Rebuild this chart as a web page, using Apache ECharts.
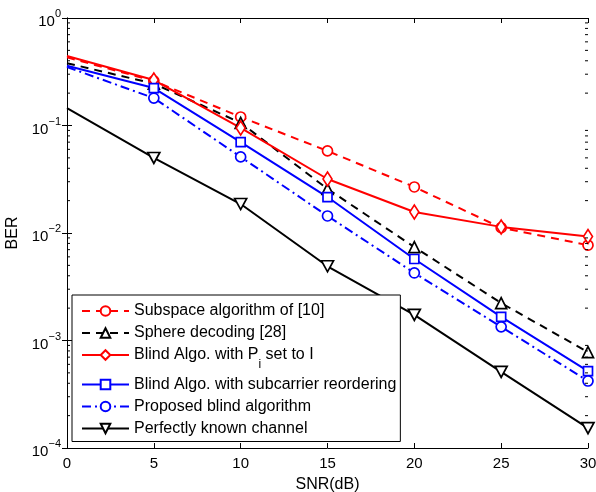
<!DOCTYPE html>
<html>
<head>
<meta charset="utf-8">
<script src="https://cdn.jsdelivr.net/npm/echarts@6/dist/echarts.min.js"></script>
<style>
  html, body { margin: 0; padding: 0; background: #fff; }
  #chart { width: 596px; height: 492px; }
</style>
</head>
<body>
<div id="chart"></div>
<script>
// SNR points (dB)
const snr = [0, 5, 10, 15, 20, 25, 30];

// BER curves
const subspaceBer   = [0.43, 0.26, 0.12, 0.058, 0.0268, 0.0112, 0.0077];
const sphereBer     = [0.38, 0.245, 0.106, 0.0257, 0.0074, 0.00223, 0.00078];
const blindPiBer    = [0.443, 0.265, 0.095, 0.0318, 0.0157, 0.0114, 0.0093];
const blindReordBer = [0.36, 0.223, 0.070, 0.0216, 0.00573, 0.00166, 0.00052];
const proposedBer   = [0.35, 0.18, 0.051, 0.0144, 0.00425, 0.00134, 0.00042];
const knownChBer    = [0.145, 0.0499, 0.0186, 0.0049, 0.00173, 0.00051, 0.000153];

// log-axis minor tick values (2..9 within each decade)
const minorTickValues = [];
for (let e = -4; e < 0; e++) {
  for (let m = 2; m <= 9; m++) minorTickValues.push(m * Math.pow(10, e));
}

const FONT = '"Liberation Sans", Arial, sans-serif';

// markers are drawn from 5 dB onward; the 0 dB point only starts the line
function pairs(ys) {
  return snr.map((x, i) => i === 0 ? { value: [x, ys[i]], symbol: 'none' } : [x, ys[i]]);
}

const triDown = 'path://M0,0 L10,0 L5,9 Z';

function mk(name, ys, color, dash, symbol, size) {
  return {
    name: name,
    type: 'line',
    data: pairs(ys),
    symbol: symbol,
    symbolSize: size,
    showAllSymbol: true,
    lineStyle: { color: color, width: 2, type: dash },
    itemStyle: { color: '#fff', borderColor: color, borderWidth: 1.7 },
    emphasis: { disabled: true },
    animation: false,
    z: 3
  };
}

const series = [
  mk('sub', subspaceBer, '#ff0000', [8, 6], 'circle', 10),
  mk('sph', sphereBer, '#000000', [8, 6], 'triangle', 11),
  mk('pi', blindPiBer, '#ff0000', 'solid', 'diamond', [9, 14]),
  mk('reord', blindReordBer, '#0000ff', 'solid', 'rect', 9),
  mk('prop', proposedBer, '#0000ff', [9, 4, 2, 4], 'circle', 10),
  mk('known', knownChBer, '#000000', 'solid', triDown, [12, 11]),
  {
    // minor ticks on the left and right edges of the log axis
    type: 'custom',
    silent: true,
    animation: false,
    clip: false,
    data: minorTickValues.map(v => [0, v]),
    renderItem: function (params, api) {
      const v = api.value(1);
      const l = api.coord([0, v]);
      const r = api.coord([30, v]);
      const st = { stroke: '#000', lineWidth: 1 };
      return {
        type: 'group',
        children: [
          { type: 'line', shape: { x1: l[0], y1: l[1], x2: l[0] + 3, y2: l[1] }, style: st },
          { type: 'line', shape: { x1: r[0] - 3, y1: r[1], x2: r[0], y2: r[1] }, style: st }
        ]
      };
    },
    z: 5
  }
];

const legendNames = {
  sub: 'Subspace algorithm of [10]',
  sph: 'Sphere decoding [28]',
  reord: 'Blind Algo. with subcarrier reordering',
  prop: 'Proposed blind algorithm',
  known: 'Perfectly known channel'
};

function expLabel(v) {
  const e = Math.round(Math.log10(v));
  const s = e < 0 ? '\u2212' + (-e) : String(e);
  return '{b|10}{e|' + s + '}';
}

const option = {
  backgroundColor: '#fff',
  animation: false,
  grid: { left: 67, right: 8, top: 18, bottom: 44, containLabel: false, outerBoundsMode: 'none' },
  xAxis: [
    {
      type: 'value', min: 0, max: 30, interval: 5,
      name: 'SNR(dB)', nameLocation: 'middle', nameGap: 29,
      nameTextStyle: { fontFamily: FONT, fontSize: 16, color: '#000' },
      axisLine: { lineStyle: { color: '#000', width: 1 } },
      axisTick: { inside: true, length: 5, lineStyle: { color: '#000' } },
      axisLabel: { fontFamily: FONT, fontSize: 15, color: '#000', margin: 8 },
      splitLine: { show: false }
    },
    {
      type: 'value', min: 0, max: 30, interval: 5, position: 'top',
      axisLine: { lineStyle: { color: '#000', width: 1 } },
      axisTick: { inside: true, length: 5, lineStyle: { color: '#000' } },
      axisLabel: { show: false },
      splitLine: { show: false }
    }
  ],
  yAxis: [
    {
      type: 'log', logBase: 10, min: 0.0001, max: 1,
      name: 'BER', nameLocation: 'middle', nameGap: 46, nameRotate: 90,
      nameTextStyle: { fontFamily: FONT, fontSize: 16, color: '#000' },
      axisLine: { show: true, lineStyle: { color: '#000', width: 1 } },
      axisTick: { show: true, inside: true, length: 5, lineStyle: { color: '#000' } },
      axisLabel: {
        margin: 6,
        formatter: expLabel,
        rich: {
          b: { fontFamily: FONT, fontSize: 15, color: '#000', padding: [8, 0, 0, 0] },
          e: { fontFamily: FONT, fontSize: 11, color: '#000', padding: [0, 0, 8, 0] }
        }
      },
      splitLine: { show: false }
    },
    {
      type: 'log', logBase: 10, min: 0.0001, max: 1, position: 'right',
      axisLine: { show: true, lineStyle: { color: '#000', width: 1 } },
      axisTick: { show: true, inside: true, length: 5, lineStyle: { color: '#000' } },
      axisLabel: { show: false },
      splitLine: { show: false }
    }
  ],
  legend: {
    orient: 'vertical',
    left: 72, top: 295,
    backgroundColor: '#fff',
    borderColor: '#000', borderWidth: 1, borderRadius: 0,
    padding: [8, 4, 5, 9],
    itemWidth: 47, itemHeight: 12, itemGap: 6,
    data: ['sub', 'sph', 'pi', 'reord', 'prop', 'known'],
    selectedMode: false,
    formatter: function (n) {
      if (n === 'pi') return '{t|Blind Algo. with P}{s|i}{t| set to I}';
      return '{t|' + legendNames[n] + '}';
    },
    textStyle: {
      fontFamily: FONT, fontSize: 16, color: '#000',
      rich: {
        t: { fontFamily: FONT, fontSize: 16, color: '#000' },
        s: { fontFamily: FONT, fontSize: 12, color: '#000', padding: [19, 0, 0, 0] }
      }
    }
  },
  series: series
};

const chart = echarts.init(document.getElementById('chart'), null, { renderer: 'canvas' });
chart.setOption(option);
</script>
</body>
</html>
